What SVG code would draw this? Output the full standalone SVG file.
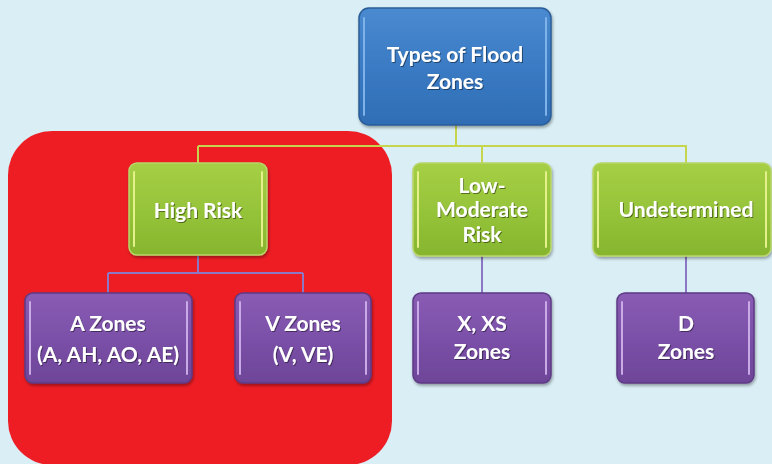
<svg xmlns="http://www.w3.org/2000/svg" width="772" height="464" viewBox="0 0 772 464">
<defs>
<linearGradient id="gBlue" x1="0" y1="0" x2="0" y2="1">
<stop offset="0" stop-color="#4a8ad0"/><stop offset="0.5" stop-color="#3a7bc4"/><stop offset="1" stop-color="#2f6db4"/>
</linearGradient>
<linearGradient id="gGreen" x1="0" y1="0" x2="0" y2="1">
<stop offset="0" stop-color="#a6cf45"/><stop offset="0.5" stop-color="#96c43a"/><stop offset="1" stop-color="#86b52e"/>
</linearGradient>
<linearGradient id="gPurple" x1="0" y1="0" x2="0" y2="1">
<stop offset="0" stop-color="#8a5cb4"/><stop offset="0.5" stop-color="#7b50a8"/><stop offset="1" stop-color="#6d4598"/>
</linearGradient>
<filter id="sh" x="-10%" y="-10%" width="120%" height="125%">
<feDropShadow dx="1" dy="2" stdDeviation="1.5" flood-color="#000" flood-opacity="0.35"/>
</filter>
<filter id="tsh" x="-10%" y="-20%" width="120%" height="140%">
<feDropShadow dx="1" dy="1" stdDeviation="0.6" flood-color="#000" flood-opacity="0.45"/>
</filter>
</defs>
<style>
.blue{fill:url(#gBlue);stroke:#2b5d98;stroke-width:1.5}
.green{fill:url(#gGreen);stroke:#b9d66a;stroke-width:1.5}
.purple{fill:url(#gPurple);stroke:#5d3a85;stroke-width:1.5}
.hl{fill:none;stroke-width:2;stroke-linecap:round}
.hlb{stroke:#7fb2e8}
.hlg{stroke:#e4f08a}
.hlp{stroke:#c9a9e6}
.t{font-family:Lato,"Liberation Sans",sans-serif;font-weight:bold;font-size:21px;fill:#ffffff;text-anchor:middle;dominant-baseline:central}
.cg{fill:none;stroke:#c6d64c;stroke-width:2}
.cp{fill:none;stroke:#8b77c4;stroke-width:2}
</style>
<rect width="772" height="464" fill="#d9eef5"/>
<rect x="8" y="131" width="384" height="334" rx="44" fill="#ee1d24"/>
<g id="connectors">
<path class="cg" d="M456 125 V146 M198 146 H687 M198 146 V163 M482 146 V163 M686 146 V163"/>
<path class="cp" d="M198 256 V273 M108 273 H303 M108 273 V293 M303 273 V293 M482 256 V293 M686 256 V293"/>
</g>
<g id="n-types" filter="url(#sh)">
<rect class="blue" x="359" y="8" width="192" height="117" rx="10"/>
<path class="hl hlb" d="M364 18 V115 M546 18 V115"/>
<text class="t" x="455" y="53" filter="url(#tsh)">Types of Flood</text>
<text class="t" x="455" y="80" filter="url(#tsh)">Zones</text>
</g>
<g id="n-high" filter="url(#sh)">
<rect class="green" x="129" y="163" width="138" height="92" rx="8"/>
<path class="hl hlg" d="M134 172 V246 M262 172 V246"/>
<text class="t" x="198" y="209" filter="url(#tsh)">High Risk</text>
</g>
<g id="n-lowmod" filter="url(#sh)">
<rect class="green" x="413" y="163" width="138" height="93" rx="8"/>
<path class="hl hlg" d="M418 172 V247 M546 172 V247"/>
<text class="t" x="482" y="184" filter="url(#tsh)">Low-</text>
<text class="t" x="482" y="208" filter="url(#tsh)">Moderate</text>
<text class="t" x="482" y="233" filter="url(#tsh)">Risk</text>
</g>
<g id="n-undet" filter="url(#sh)">
<rect class="green" x="593" y="163" width="178" height="93" rx="8"/>
<path class="hl hlg" d="M598 172 V247 M766 172 V247"/>
<text class="t" x="686" y="208" filter="url(#tsh)">Undetermined</text>
</g>
<g id="n-azones" filter="url(#sh)">
<rect class="purple" x="25" y="293" width="167" height="90" rx="8"/>
<path class="hl hlp" d="M30 302 V374 M187 302 V374"/>
<text class="t" x="108" y="322" filter="url(#tsh)">A Zones</text>
<text class="t" x="108" y="353" filter="url(#tsh)">(A, AH, AO, AE)</text>
</g>
<g id="n-vzones" filter="url(#sh)">
<rect class="purple" x="235" y="293" width="136" height="90" rx="8"/>
<path class="hl hlp" d="M240 302 V374 M366 302 V374"/>
<text class="t" x="303" y="322" filter="url(#tsh)">V Zones</text>
<text class="t" x="303" y="353" filter="url(#tsh)">(V, VE)</text>
</g>
<g id="n-xzones" filter="url(#sh)">
<rect class="purple" x="413" y="293" width="138" height="90" rx="8"/>
<path class="hl hlp" d="M418 302 V374 M546 302 V374"/>
<text class="t" x="482" y="322" filter="url(#tsh)">X, XS</text>
<text class="t" x="482" y="350" filter="url(#tsh)">Zones</text>
</g>
<g id="n-dzones" filter="url(#sh)">
<rect class="purple" x="617" y="293" width="137" height="90" rx="8"/>
<path class="hl hlp" d="M622 302 V374 M749 302 V374"/>
<text class="t" x="686" y="322" filter="url(#tsh)">D</text>
<text class="t" x="686" y="350" filter="url(#tsh)">Zones</text>
</g>
</svg>
